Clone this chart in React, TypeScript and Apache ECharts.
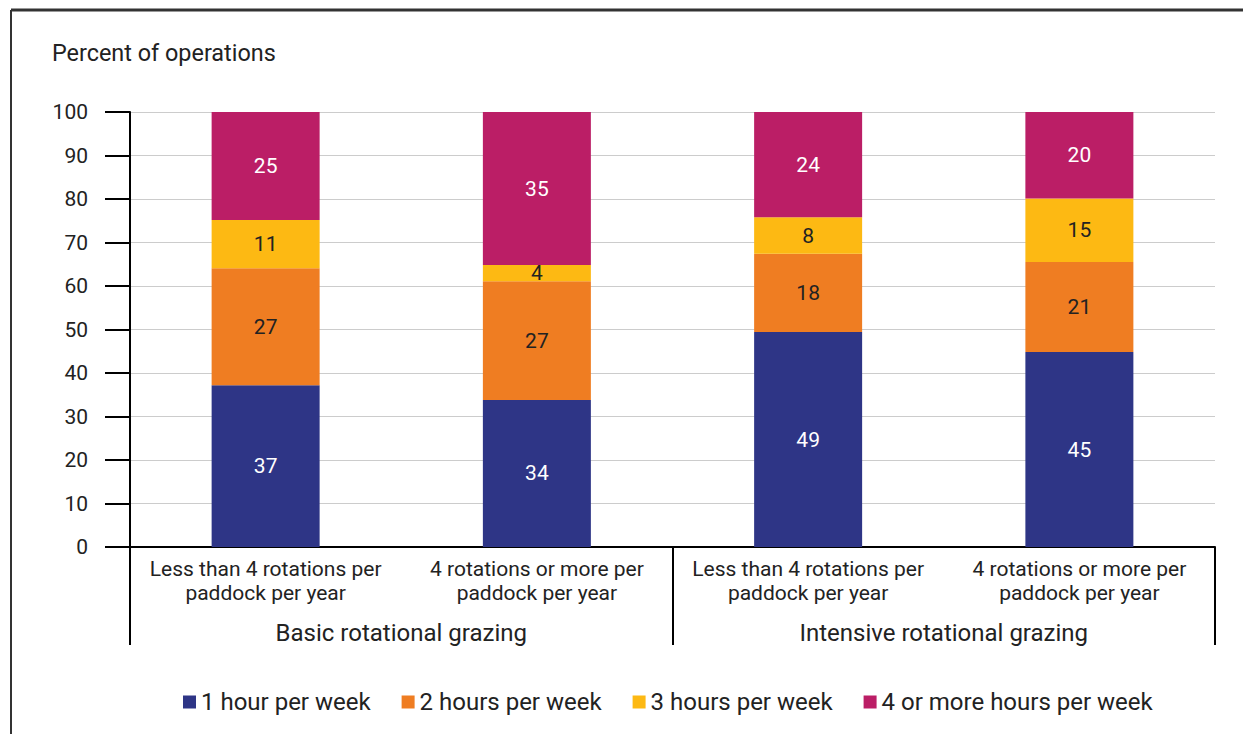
import React, { useEffect, useRef } from "react";
import * as echarts from "echarts";

const categories = [
  "Less than 4 rotations per\npaddock per year",
  "4 rotations or more per\npaddock per year",
  "Less than 4 rotations per\npaddock per year",
  "4 rotations or more per\npaddock per year",
];
const groups = ["Basic rotational grazing", "Intensive rotational grazing"];
const seriesNames = [
  "1 hour per week",
  "2 hours per week",
  "3 hours per week",
  "4 or more hours per week",
];
const oneHour = [37.2, 33.8, 49.4, 44.8];
const twoHours = [26.9, 27.3, 18.0, 20.7];
const threeHours = [11.1, 3.7, 8.4, 14.6];
const fourPlus = [24.8, 35.2, 24.2, 19.9];
const yTicks = { min: 0, max: 100, interval: 10 };

const colors = ["#2E3586", "#EF7D22", "#FDB913", "#BB1E66"];
const labelColors = ["#ffffff", "#222222", "#222222", "#ffffff"];

export default function App() {
  const ref = useRef<HTMLDivElement>(null);
  useEffect(() => {
    if (!ref.current) return;
    const chart = echarts.init(ref.current, null, { renderer: "svg" });
    const font = "Roboto, 'Noto Sans', sans-serif";
    const values = [oneHour, twoHours, threeHours, fourPlus];
    chart.setOption({
      animation: false,
      textStyle: { fontFamily: font },
      title: {
        text: "Percent of operations",
        left: 47,
        top: 36,
        textStyle: { fontSize: 23.4, fontWeight: "normal", color: "#222", fontFamily: font },
      },
      legend: {
        top: 685,
        left: 178,
        itemWidth: 13,
        itemHeight: 13,
        itemGap: 31,
        icon: "rect",
        textStyle: { fontSize: 24, color: "#222", fontFamily: font },
        data: seriesNames,
      },
      grid: { left: 130, right: 28, top: 112, bottom: 187 },
      xAxis: [
        {
          type: "category",
          data: categories,
          axisLine: { show: true, lineStyle: { color: "#000", width: 2 } },
          axisTick: { show: false },
          axisLabel: {
            margin: 10,
            fontSize: 21,
            lineHeight: 24,
            color: "#222",
            fontFamily: font,
            interval: 0,
          },
        },
        {
          type: "category",
          data: groups,
          position: "bottom",
          axisLine: { show: false },
          axisTick: { show: true, length: 98, lineStyle: { color: "#000", width: 2 } },
          axisLabel: { margin: 74, fontSize: 24, color: "#222", fontFamily: font },
          splitLine: { show: false },
        },
      ],
      yAxis: {
        type: "value",
        min: yTicks.min,
        max: yTicks.max,
        interval: yTicks.interval,
        axisLine: { show: true, lineStyle: { color: "#000", width: 2 } },
        axisTick: { show: true, length: 25, lineStyle: { color: "#000", width: 2 } },
        axisLabel: { margin: 42, fontSize: 21, color: "#222", fontFamily: font },
        splitLine: { show: true, lineStyle: { color: "#cccccc", width: 1 } },
      },
      series: seriesNames.map((name, i) => ({
        name,
        type: "bar",
        stack: "total",
        barWidth: 108,
        data: values[i],
        itemStyle: { color: colors[i] },
        label: {
          show: true,
          position: "inside",
          fontSize: 21,
          color: labelColors[i],
          fontFamily: font,
          formatter: (p: any) => String(Math.round(p.value)),
        },
      })),
      graphic: [
        {
          type: "line",
          shape: { x1: 11, y1: 10, x2: 1243, y2: 10 },
          style: { stroke: "#333", lineWidth: 3 },
        },
        {
          type: "line",
          shape: { x1: 11, y1: 10, x2: 11, y2: 734 },
          style: { stroke: "#333", lineWidth: 2 },
        },
      ],
    });
    return () => chart.dispose();
  }, []);
  return (
    <div
      ref={ref}
      style={{ position: "fixed", left: 0, top: 0, width: 1243, height: 734, background: "#fff" }}
    />
  );
}
